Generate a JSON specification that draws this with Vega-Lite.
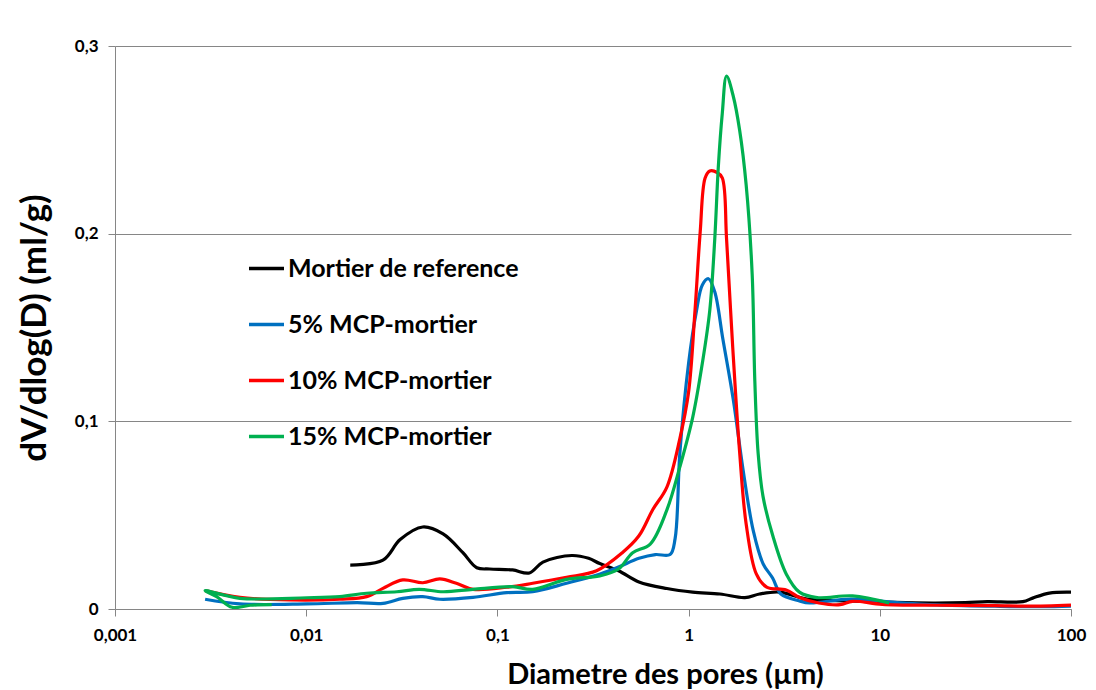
{
  "$schema": "https://vega.github.io/schema/vega-lite/v6.json",
  "autosize": {"type": "none"},
  "padding": {"left": 115, "top": 46, "right": 25, "bottom": 81},
  "width": 956,
  "height": 563,
  "background": "white",
  "config": {
    "font": "Lato",
    "view": {"stroke": null},
    "axis": {"labelFont": "Lato", "titleFont": "Lato", "labelFontWeight": "bold", "titleFontWeight": "bold", "labelColor": "black", "titleColor": "black", "domainColor": "#868686", "tickColor": "#868686", "gridColor": "#868686"}
  },
  "data": {"values": [
    {"s": "Mortier de reference", "i": 1, "d": 0.017, "v": 0.0234},
    {"s": "Mortier de reference", "i": 2, "d": 0.0252, "v": 0.026},
    {"s": "Mortier de reference", "i": 3, "d": 0.031, "v": 0.037},
    {"s": "Mortier de reference", "i": 4, "d": 0.0407, "v": 0.0437},
    {"s": "Mortier de reference", "i": 5, "d": 0.052, "v": 0.040},
    {"s": "Mortier de reference", "i": 6, "d": 0.066, "v": 0.030},
    {"s": "Mortier de reference", "i": 7, "d": 0.078, "v": 0.022},
    {"s": "Mortier de reference", "i": 8, "d": 0.091, "v": 0.0213},
    {"s": "Mortier de reference", "i": 9, "d": 0.12, "v": 0.0208},
    {"s": "Mortier de reference", "i": 10, "d": 0.147, "v": 0.0192},
    {"s": "Mortier de reference", "i": 11, "d": 0.173, "v": 0.025},
    {"s": "Mortier de reference", "i": 12, "d": 0.245, "v": 0.0285},
    {"s": "Mortier de reference", "i": 13, "d": 0.30, "v": 0.027},
    {"s": "Mortier de reference", "i": 14, "d": 0.343, "v": 0.0242},
    {"s": "Mortier de reference", "i": 15, "d": 0.43, "v": 0.0204},
    {"s": "Mortier de reference", "i": 16, "d": 0.55, "v": 0.0144},
    {"s": "Mortier de reference", "i": 17, "d": 0.77, "v": 0.0109},
    {"s": "Mortier de reference", "i": 18, "d": 1.05, "v": 0.009},
    {"s": "Mortier de reference", "i": 19, "d": 1.46, "v": 0.008},
    {"s": "Mortier de reference", "i": 20, "d": 1.97, "v": 0.0061},
    {"s": "Mortier de reference", "i": 21, "d": 2.35, "v": 0.008},
    {"s": "Mortier de reference", "i": 22, "d": 2.99, "v": 0.009},
    {"s": "Mortier de reference", "i": 23, "d": 4.17, "v": 0.0053},
    {"s": "Mortier de reference", "i": 24, "d": 7.0, "v": 0.0043},
    {"s": "Mortier de reference", "i": 25, "d": 12, "v": 0.0035},
    {"s": "Mortier de reference", "i": 26, "d": 19, "v": 0.0032},
    {"s": "Mortier de reference", "i": 27, "d": 28, "v": 0.0034},
    {"s": "Mortier de reference", "i": 28, "d": 36.5, "v": 0.0039},
    {"s": "Mortier de reference", "i": 29, "d": 56, "v": 0.0039},
    {"s": "Mortier de reference", "i": 30, "d": 63, "v": 0.0058},
    {"s": "Mortier de reference", "i": 31, "d": 77, "v": 0.0085},
    {"s": "Mortier de reference", "i": 32, "d": 100, "v": 0.009},

    {"s": "5% MCP-mortier", "i": 1, "d": 0.00296, "v": 0.0052},
    {"s": "5% MCP-mortier", "i": 2, "d": 0.0045, "v": 0.0027},
    {"s": "5% MCP-mortier", "i": 3, "d": 0.0101, "v": 0.0027},
    {"s": "5% MCP-mortier", "i": 4, "d": 0.0185, "v": 0.0034},
    {"s": "5% MCP-mortier", "i": 5, "d": 0.0252, "v": 0.003},
    {"s": "5% MCP-mortier", "i": 6, "d": 0.032, "v": 0.0057},
    {"s": "5% MCP-mortier", "i": 7, "d": 0.0407, "v": 0.0066},
    {"s": "5% MCP-mortier", "i": 8, "d": 0.050, "v": 0.0052},
    {"s": "5% MCP-mortier", "i": 9, "d": 0.0745, "v": 0.0062},
    {"s": "5% MCP-mortier", "i": 10, "d": 0.112, "v": 0.0087},
    {"s": "5% MCP-mortier", "i": 11, "d": 0.153, "v": 0.0092},
    {"s": "5% MCP-mortier", "i": 12, "d": 0.23, "v": 0.0137},
    {"s": "5% MCP-mortier", "i": 13, "d": 0.345, "v": 0.0187},
    {"s": "5% MCP-mortier", "i": 14, "d": 0.43, "v": 0.0224},
    {"s": "5% MCP-mortier", "i": 15, "d": 0.55, "v": 0.027},
    {"s": "5% MCP-mortier", "i": 16, "d": 0.67, "v": 0.029},
    {"s": "5% MCP-mortier", "i": 17, "d": 0.80, "v": 0.029},
    {"s": "5% MCP-mortier", "i": 18, "d": 0.85, "v": 0.0375},
    {"s": "5% MCP-mortier", "i": 19, "d": 0.90, "v": 0.083},
    {"s": "5% MCP-mortier", "i": 20, "d": 1.0, "v": 0.131},
    {"s": "5% MCP-mortier", "i": 21, "d": 1.10, "v": 0.159},
    {"s": "5% MCP-mortier", "i": 22, "d": 1.18, "v": 0.1727},
    {"s": "5% MCP-mortier", "i": 23, "d": 1.27, "v": 0.176},
    {"s": "5% MCP-mortier", "i": 24, "d": 1.37, "v": 0.169},
    {"s": "5% MCP-mortier", "i": 25, "d": 1.51, "v": 0.144},
    {"s": "5% MCP-mortier", "i": 26, "d": 1.71, "v": 0.112},
    {"s": "5% MCP-mortier", "i": 27, "d": 1.93, "v": 0.0737},
    {"s": "5% MCP-mortier", "i": 28, "d": 2.18, "v": 0.0416},
    {"s": "5% MCP-mortier", "i": 29, "d": 2.45, "v": 0.0242},
    {"s": "5% MCP-mortier", "i": 30, "d": 2.75, "v": 0.0165},
    {"s": "5% MCP-mortier", "i": 31, "d": 3.04, "v": 0.008},
    {"s": "5% MCP-mortier", "i": 32, "d": 3.8, "v": 0.0043},
    {"s": "5% MCP-mortier", "i": 33, "d": 4.3, "v": 0.0032},
    {"s": "5% MCP-mortier", "i": 34, "d": 7.0, "v": 0.0053},
    {"s": "5% MCP-mortier", "i": 35, "d": 12, "v": 0.0035},
    {"s": "5% MCP-mortier", "i": 36, "d": 20, "v": 0.0022},
    {"s": "5% MCP-mortier", "i": 37, "d": 40, "v": 0.0015},
    {"s": "5% MCP-mortier", "i": 38, "d": 70, "v": 0.0012},
    {"s": "5% MCP-mortier", "i": 39, "d": 100, "v": 0.0015},

    {"s": "10% MCP-mortier", "i": 1, "d": 0.00296, "v": 0.0098},
    {"s": "10% MCP-mortier", "i": 2, "d": 0.0045, "v": 0.0062},
    {"s": "10% MCP-mortier", "i": 3, "d": 0.0082, "v": 0.0048},
    {"s": "10% MCP-mortier", "i": 4, "d": 0.015, "v": 0.0052},
    {"s": "10% MCP-mortier", "i": 5, "d": 0.0207, "v": 0.0066},
    {"s": "10% MCP-mortier", "i": 6, "d": 0.0252, "v": 0.011},
    {"s": "10% MCP-mortier", "i": 7, "d": 0.032, "v": 0.0155},
    {"s": "10% MCP-mortier", "i": 8, "d": 0.0407, "v": 0.014},
    {"s": "10% MCP-mortier", "i": 9, "d": 0.050, "v": 0.016},
    {"s": "10% MCP-mortier", "i": 10, "d": 0.061, "v": 0.0137},
    {"s": "10% MCP-mortier", "i": 11, "d": 0.0745, "v": 0.0105},
    {"s": "10% MCP-mortier", "i": 12, "d": 0.112, "v": 0.0116},
    {"s": "10% MCP-mortier", "i": 13, "d": 0.153, "v": 0.0137},
    {"s": "10% MCP-mortier", "i": 14, "d": 0.23, "v": 0.0169},
    {"s": "10% MCP-mortier", "i": 15, "d": 0.33, "v": 0.0204},
    {"s": "10% MCP-mortier", "i": 16, "d": 0.45, "v": 0.030},
    {"s": "10% MCP-mortier", "i": 17, "d": 0.55, "v": 0.039},
    {"s": "10% MCP-mortier", "i": 18, "d": 0.65, "v": 0.053},
    {"s": "10% MCP-mortier", "i": 19, "d": 0.77, "v": 0.065},
    {"s": "10% MCP-mortier", "i": 20, "d": 0.90, "v": 0.0908},
    {"s": "10% MCP-mortier", "i": 21, "d": 1.0, "v": 0.1156},
    {"s": "10% MCP-mortier", "i": 22, "d": 1.08, "v": 0.159},
    {"s": "10% MCP-mortier", "i": 23, "d": 1.15, "v": 0.201},
    {"s": "10% MCP-mortier", "i": 24, "d": 1.22, "v": 0.2297},
    {"s": "10% MCP-mortier", "i": 25, "d": 1.29, "v": 0.2334},
    {"s": "10% MCP-mortier", "i": 26, "d": 1.41, "v": 0.2326},
    {"s": "10% MCP-mortier", "i": 27, "d": 1.50, "v": 0.2297},
    {"s": "10% MCP-mortier", "i": 28, "d": 1.58, "v": 0.197},
    {"s": "10% MCP-mortier", "i": 29, "d": 1.70, "v": 0.140},
    {"s": "10% MCP-mortier", "i": 30, "d": 1.85, "v": 0.0832},
    {"s": "10% MCP-mortier", "i": 31, "d": 2.0, "v": 0.0453},
    {"s": "10% MCP-mortier", "i": 32, "d": 2.26, "v": 0.0187},
    {"s": "10% MCP-mortier", "i": 33, "d": 2.56, "v": 0.0117},
    {"s": "10% MCP-mortier", "i": 34, "d": 3.24, "v": 0.0101},
    {"s": "10% MCP-mortier", "i": 35, "d": 3.8, "v": 0.0061},
    {"s": "10% MCP-mortier", "i": 36, "d": 4.8, "v": 0.0032},
    {"s": "10% MCP-mortier", "i": 37, "d": 6.2, "v": 0.0023},
    {"s": "10% MCP-mortier", "i": 38, "d": 7.2, "v": 0.0041},
    {"s": "10% MCP-mortier", "i": 39, "d": 10.3, "v": 0.0025},
    {"s": "10% MCP-mortier", "i": 40, "d": 20, "v": 0.002},
    {"s": "10% MCP-mortier", "i": 41, "d": 40, "v": 0.0018},
    {"s": "10% MCP-mortier", "i": 42, "d": 60, "v": 0.0015},
    {"s": "10% MCP-mortier", "i": 43, "d": 100, "v": 0.0021},

    {"s": "15% MCP-mortier", "i": 1, "d": 0.0066, "v": 0.0023},
    {"s": "15% MCP-mortier", "i": 2, "d": 0.0051, "v": 0.002},
    {"s": "15% MCP-mortier", "i": 3, "d": 0.0041, "v": 0.0009},
    {"s": "15% MCP-mortier", "i": 4, "d": 0.0034, "v": 0.0066},
    {"s": "15% MCP-mortier", "i": 5, "d": 0.00296, "v": 0.0098},
    {"s": "15% MCP-mortier", "i": 6, "d": 0.0045, "v": 0.0057},
    {"s": "15% MCP-mortier", "i": 7, "d": 0.0101, "v": 0.006},
    {"s": "15% MCP-mortier", "i": 8, "d": 0.015, "v": 0.0066},
    {"s": "15% MCP-mortier", "i": 9, "d": 0.0207, "v": 0.0084},
    {"s": "15% MCP-mortier", "i": 10, "d": 0.0298, "v": 0.0092},
    {"s": "15% MCP-mortier", "i": 11, "d": 0.039, "v": 0.0105},
    {"s": "15% MCP-mortier", "i": 12, "d": 0.052, "v": 0.0092},
    {"s": "15% MCP-mortier", "i": 13, "d": 0.0745, "v": 0.0105},
    {"s": "15% MCP-mortier", "i": 14, "d": 0.12, "v": 0.0119},
    {"s": "15% MCP-mortier", "i": 15, "d": 0.153, "v": 0.0105},
    {"s": "15% MCP-mortier", "i": 16, "d": 0.23, "v": 0.0158},
    {"s": "15% MCP-mortier", "i": 17, "d": 0.343, "v": 0.0176},
    {"s": "15% MCP-mortier", "i": 18, "d": 0.43, "v": 0.0213},
    {"s": "15% MCP-mortier", "i": 19, "d": 0.51, "v": 0.030},
    {"s": "15% MCP-mortier", "i": 20, "d": 0.63, "v": 0.0346},
    {"s": "15% MCP-mortier", "i": 21, "d": 0.77, "v": 0.0528},
    {"s": "15% MCP-mortier", "i": 22, "d": 0.90, "v": 0.0757},
    {"s": "15% MCP-mortier", "i": 23, "d": 1.05, "v": 0.102},
    {"s": "15% MCP-mortier", "i": 24, "d": 1.18, "v": 0.131},
    {"s": "15% MCP-mortier", "i": 25, "d": 1.29, "v": 0.159},
    {"s": "15% MCP-mortier", "i": 26, "d": 1.37, "v": 0.197},
    {"s": "15% MCP-mortier", "i": 27, "d": 1.43, "v": 0.2355},
    {"s": "15% MCP-mortier", "i": 28, "d": 1.50, "v": 0.264},
    {"s": "15% MCP-mortier", "i": 29, "d": 1.58, "v": 0.284},
    {"s": "15% MCP-mortier", "i": 30, "d": 1.71, "v": 0.2735},
    {"s": "15% MCP-mortier", "i": 31, "d": 1.85, "v": 0.255},
    {"s": "15% MCP-mortier", "i": 32, "d": 2.0, "v": 0.226},
    {"s": "15% MCP-mortier", "i": 33, "d": 2.15, "v": 0.1785},
    {"s": "15% MCP-mortier", "i": 34, "d": 2.22, "v": 0.1215},
    {"s": "15% MCP-mortier", "i": 35, "d": 2.31, "v": 0.083},
    {"s": "15% MCP-mortier", "i": 36, "d": 2.45, "v": 0.060},
    {"s": "15% MCP-mortier", "i": 37, "d": 2.75, "v": 0.0394},
    {"s": "15% MCP-mortier", "i": 38, "d": 3.24, "v": 0.0187},
    {"s": "15% MCP-mortier", "i": 39, "d": 3.8, "v": 0.009},
    {"s": "15% MCP-mortier", "i": 40, "d": 4.7, "v": 0.0061},
    {"s": "15% MCP-mortier", "i": 41, "d": 7.2, "v": 0.007},
    {"s": "15% MCP-mortier", "i": 42, "d": 11.2, "v": 0.0032}
  ]},
  "mark": {"type": "line", "strokeWidth": 3.2, "interpolate": "catmull-rom", "clip": true},
  "encoding": {
    "x": {
      "field": "d", "type": "quantitative",
      "scale": {"type": "log", "domain": [0.001, 100], "nice": false},
      "axis": {
        "title": "Diametre des pores (µm)",
        "values": [0.001, 0.01, 0.1, 1, 10, 100],
        "format": "~g",
        "labelExpr": "replace(datum.label, '.', ',')",
        "grid": false,
        "tickSize": 7,
        "labelPadding": 11,
        "labelFontSize": 17,
        "titleFontSize": 29,
        "titlePadding": 17,
        "titleX": 550,
        "titleAnchor": "start",
        "titleAlign": "center",
        "labelFlush": false
      }
    },
    "y": {
      "field": "v", "type": "quantitative",
      "scale": {"domain": [0, 0.3], "nice": false},
      "axis": {
        "title": "dV/dlog(D) (ml/g)",
        "values": [0, 0.1, 0.2, 0.3],
        "format": "~g",
        "labelExpr": "replace(datum.label, '.', ',')",
        "grid": true,
        "tickSize": 7,
        "labelPadding": 10,
        "labelFontSize": 17,
        "titleFontSize": 35,
        "titlePadding": 22
      }
    },
    "color": {
      "field": "s", "type": "nominal",
      "sort": ["Mortier de reference", "5% MCP-mortier", "10% MCP-mortier", "15% MCP-mortier"],
      "scale": {
        "domain": ["Mortier de reference", "5% MCP-mortier", "10% MCP-mortier", "15% MCP-mortier"],
        "range": ["#000000", "#0070C0", "#FF0000", "#00B050"]
      },
      "legend": {
        "title": null,
        "orient": "none",
        "legendX": 132,
        "legendY": 203,
        "symbolType": "stroke",
        "symbolSize": 1225,
        "symbolStrokeWidth": 3.5,
        "labelFont": "Lato",
        "labelFontWeight": "bold",
        "labelFontSize": 25,
        "labelColor": "black",
        "labelOffset": 2,
        "rowPadding": 23,
        "labelLimit": 400
      }
    },
    "order": {"field": "i", "type": "quantitative"}
  }
}
